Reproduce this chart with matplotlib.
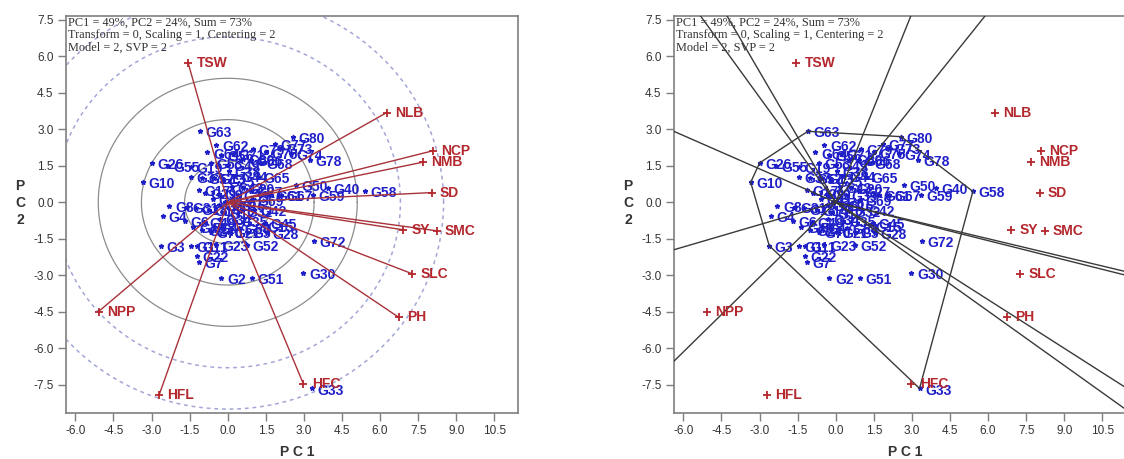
import numpy as np
import matplotlib.pyplot as plt
from matplotlib.ticker import FormatStrFormatter

# genotype scores (PC1, PC2)
gen_names = ['G1', 'G2', 'G3', 'G4', 'G5', 'G6', 'G7', 'G8', 'G9', 'G10',
             'G11', 'G12', 'G13', 'G14', 'G15', 'G16', 'G17', 'G18', 'G19', 'G20',
             'G21', 'G22', 'G23', 'G24', 'G25', 'G26', 'G27', 'G28', 'G29', 'G30',
             'G31', 'G32', 'G33', 'G34', 'G35', 'G36', 'G37', 'G38', 'G39', 'G40',
             'G41', 'G42', 'G43', 'G44', 'G45', 'G46', 'G47', 'G48', 'G49', 'G50',
             'G51', 'G52', 'G53', 'G54', 'G55', 'G56', 'G57', 'G58', 'G59', 'G60',
             'G61', 'G62', 'G63', 'G64', 'G65', 'G66', 'G67', 'G68', 'G69', 'G70',
             'G71', 'G72', 'G73', 'G74', 'G75', 'G76', 'G77', 'G78', 'G79', 'G80']
gen_x = [-1.45, -0.25, -2.62, -2.55, 0.75, -1.70, -1.15, -2.30, -0.35, -3.35,
         -1.20, -0.15, -0.55, -0.75, 1.35, 0.25, -1.15, -1.25, -1.45, 0.60,
         0.05, -1.20, -0.45, -1.00, -0.20, -3.00, 0.90, 1.55, -0.90, 2.98,
         -1.60, 0.50, 3.30, -0.30, 0.30, -0.35, -1.45, 0.05, 0.40, 3.95,
         -0.60, 1.05, 0.15, 0.30, 1.45, -1.35, -0.55, -0.95, 0.00, 2.70,
         0.95, 0.75, -0.65, 0.45, -2.35, -0.25, -1.00, 5.40, 3.35, 0.60,
         1.70, -0.45, -1.10, -0.80, 1.20, 0.90, 2.10, 1.30, 0.95, -0.65,
         0.20, 3.40, 2.10, 2.50, 1.50, -0.10, 1.85, 3.25, 1.00, 2.58]
gen_y = [-1.80, -3.10, -1.78, -0.55, -1.20, -0.75, -2.45, -0.15, 0.35, 0.82,
         -1.80, -0.45, 1.00, -0.30, -0.95, -0.10, 0.50, -0.25, 1.45, 0.60,
         -1.20, -2.20, -1.75, -1.15, 0.90, 1.62, 0.45, -1.25, 0.40, -2.90,
         -0.20, -0.35, -7.65, -0.70, -0.75, -0.10, 1.05, 1.30, 0.30, 0.60,
         0.15, -0.30, 0.65, 1.10, -0.85, -1.00, -1.00, -0.80, 1.55, 0.70,
         -3.10, -1.75, 1.60, -1.05, 1.50, 1.95, 1.00, 0.45, 0.30, 1.80,
         0.30, 2.35, 2.92, 2.05, 1.05, 1.75, 0.30, 1.60, 0.10, -1.20,
         2.00, -1.60, 2.25, 2.00, 2.05, 0.00, 2.40, 1.75, 2.20, 2.70]

# trait (tester) scores
trait_names = ['TSW', 'NLB', 'NCP', 'NMB', 'SD', 'SY', 'SMC', 'SLC', 'PH', 'HFC', 'HFL', 'NPP']
trait_x = [-1.56, 6.26, 8.08, 7.68, 8.03, 6.91, 8.23, 7.27, 6.74, 2.98, -2.70, -5.09]
trait_y = [5.73, 3.69, 2.12, 1.65, 0.40, -1.13, -1.17, -2.94, -4.73, -7.47, -7.91, -4.49]

header = ['PC1 = 49%, PC2 = 24%, Sum = 73%',
          'Transform = 0, Scaling = 1, Centering = 2',
          'Model = 2, SVP = 2']

solid_radii = [1.7, 3.4, 5.1]
dashed_radii = [6.8, 8.5]
# which-won-where polygon vertices and ray directions (degrees)
hull_names = ['G63', 'G80', 'G58', 'G33', 'G3', 'G10', 'G26']
ray_angles = [124.8, 119.2, 68.9, 52.5, -14.0, -14.7, -33.7, -36.7, 225.7, 197.0, 155.4]

blue = '#1f1fc8'
red = '#b3272d'
plt.rcParams['font.family'] = ['Liberation Sans', 'DejaVu Sans']
plt.rcParams['axes.unicode_minus'] = False

W, H = 1124, 459
fig = plt.figure(figsize=(W / 100, H / 100), dpi=100)
ax1 = fig.add_axes([66 / W, (H - 413) / H, 452 / W, 397 / H])
ax2 = fig.add_axes([674 / W, (H - 413) / H, 452 / W, 397 / H])


def style(ax):
    ax.set_xlim(-6.37, 11.43)
    ax.set_ylim(-8.66, 7.66)
    ax.set_xticks(np.arange(-6, 10.6, 1.5))
    ax.set_yticks(np.arange(-7.5, 7.6, 1.5))
    ax.xaxis.set_major_formatter(FormatStrFormatter('%.1f'))
    ax.yaxis.set_major_formatter(FormatStrFormatter('%.1f'))
    for s in ax.spines.values():
        s.set_color('#7f7f7f')
        s.set_linewidth(1.2)
    ax.tick_params(direction='out', length=6, width=1, color='#7f7f7f',
                   labelsize=8.5, labelcolor='#333333', pad=3)
    ax.text(0.004, 0.997, '\n'.join(header), transform=ax.transAxes, va='top', ha='left',
            family=['Liberation Serif'], fontsize=8.8, color='#333333', linespacing=1.02)


def points(ax):
    ax.plot(gen_x, gen_y, ls='none', marker='*', ms=3.5, color=blue, zorder=3)
    for n, x, y in zip(gen_names, gen_x, gen_y):
        ax.annotate(n, (x, y), xytext=(4, -1.5), textcoords='offset points', color=blue,
                    fontsize=10, fontweight='bold', va='center', ha='left', zorder=3)
    ax.plot(trait_x, trait_y, ls='none', marker='+', ms=6, mew=1.3, color=red, zorder=5)
    for n, x, y in zip(trait_names, trait_x, trait_y):
        ax.annotate(n, (x, y), xytext=(6, 0), textcoords='offset points', color=red,
                    fontsize=10, fontweight='bold', va='center', ha='left', zorder=5)


# left: vector view
style(ax1)
t = np.linspace(0, 2 * np.pi, 400)
for r in solid_radii:
    ax1.plot(r * np.cos(t), r * np.sin(t), color='#8c8c8c', lw=0.9, zorder=1)
for r in dashed_radii:
    ax1.plot(r * np.cos(t), r * np.sin(t), color='#a3a6d6', lw=1.1, ls=(0, (2.5, 2.5)), zorder=1)
points(ax1)
for x, y in zip(trait_x, trait_y):
    ax1.plot([0, x], [0, y], color='#a8323a', lw=1, zorder=4)

# right: polygon view
style(ax2)
points(ax2)
idx = [gen_names.index(n) for n in hull_names] + [gen_names.index(hull_names[0])]
ax2.plot([gen_x[i] for i in idx], [gen_y[i] for i in idx], color='#3a3a3a', lw=1, zorder=4)
for a in np.radians(ray_angles):
    ax2.plot([0, 25 * np.cos(a)], [0, 25 * np.sin(a)], color='#3a3a3a', lw=1, zorder=4)

for xoff in [0, 608]:
    fig.text((297 + xoff) / W, 1 - 452 / H, 'P C 1', ha='center', va='center',
             fontsize=10, fontweight='bold', color='#333333')
    fig.text((20 + xoff) / W, 1 - 203 / H, 'P\nC\n2', ha='center', va='center',
             fontsize=10, fontweight='bold', color='#333333', linespacing=1.3)

fig.savefig('out.png', dpi=100)
